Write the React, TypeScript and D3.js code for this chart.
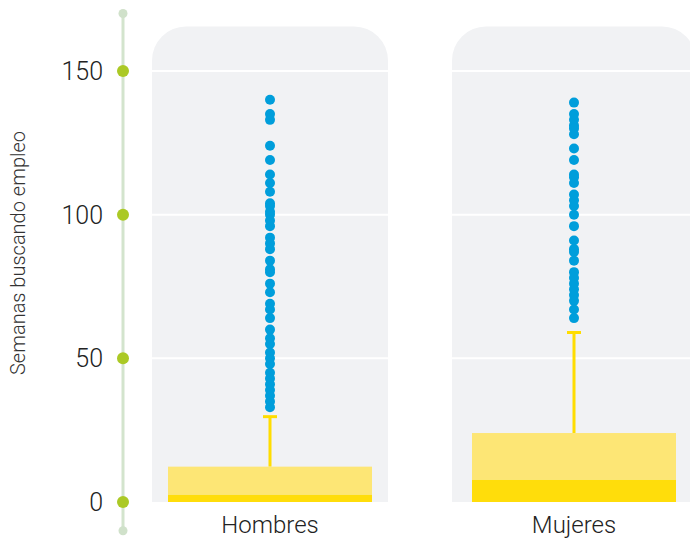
import React from 'react';
import * as d3 from 'd3';

const categories = ['Hombres', 'Mujeres'];
const q1 = [0, 0];
const medians = [2.5, 7.7];
const q3 = [12.3, 24];
const whiskerHigh = [29.7, 59];
const outliersHombres = [
  140, 135, 133, 124, 119, 114, 111, 108, 104, 103, 101, 100, 98, 96, 92, 90, 88, 84, 81, 80,
  76, 73, 69, 67, 64, 60, 57, 55, 52, 50, 48, 45, 43, 41, 39, 37, 35, 33,
];
const outliersMujeres = [
  139, 135, 133, 131, 130, 128, 123, 119, 114, 113, 111, 107, 105, 103, 100, 96, 91, 88, 87, 84,
  80, 78, 76, 74, 72, 70, 67, 64,
];
const outliers = [outliersHombres, outliersMujeres];
const yTicks = [0, 50, 100, 150];
const gridTicks = [50, 100, 150];
const axisExtent = [-10, 170];
const panelTop = 165.5;

const W = 690;
const H = 539;
const FONT = 'Roboto, "Liberation Sans", sans-serif';

const App: React.FC = () => {
  const y = d3.scaleLinear().domain([0, 150]).range([502, 71]);
  const x = d3.scaleBand<string>()
    .domain(categories)
    .range([152, 688])
    .paddingInner(64 / 300);
  const bw = x.bandwidth();
  const boxW = 204;
  const axisX = 123;

  // last panel runs past the right edge of the picture
  const panelExtent = (c: string, i: number): [number, number] => {
    const x0 = x(c)!;
    return [x0, i === categories.length - 1 ? 696 : x0 + bw];
  };

  const panelPath = (x0: number, x1: number) => {
    const r = 34;
    const top = y(panelTop);
    const bottom = y(0);
    const p = d3.path();
    p.moveTo(x0, bottom);
    p.lineTo(x0, top + r);
    p.arcTo(x0, top, x0 + r, top, r);
    p.lineTo(x1 - r, top);
    p.arcTo(x1, top, x1, top + r, r);
    p.lineTo(x1, bottom);
    p.closePath();
    return p.toString();
  };

  return (
    <svg width={W} height={H} style={{ position: 'absolute', left: 0, top: 0 }} fontFamily={FONT}>
      {/* panels */}
      {categories.map((c, i) => {
        const [x0, x1] = panelExtent(c, i);
        return (
          <g key={c}>
            <path d={panelPath(x0, x1)} fill="#f1f2f4" />
            {gridTicks.map((t) => (
              <line key={t} x1={x0} x2={x1} y1={y(t)} y2={y(t)} stroke="#ffffff" strokeWidth={2} />
            ))}
          </g>
        );
      })}

      {/* boxes, whiskers, outliers */}
      {categories.map((c, i) => {
        const [x0, x1] = panelExtent(c, i);
        const cx = (x0 + x1) / 2;
        return (
          <g key={c}>
            <line x1={cx} x2={cx} y1={y(q3[i])} y2={y(whiskerHigh[i])} stroke="#ffdd00" strokeWidth={3} />
            <line x1={cx - 7} x2={cx + 7} y1={y(whiskerHigh[i])} y2={y(whiskerHigh[i])} stroke="#ffdd00" strokeWidth={3} />
            <rect x={cx - boxW / 2} width={boxW} y={y(q3[i])} height={y(medians[i]) - y(q3[i])} fill="#fde675" />
            <rect x={cx - boxW / 2} width={boxW} y={y(medians[i])} height={y(q1[i]) - y(medians[i])} fill="#ffdd0b" />
            {outliers[i].map((v, j) => (
              <circle key={j} cx={cx} cy={y(v)} r={5} fill="#009edb" />
            ))}
            <text x={cx} y={533} textAnchor="middle" fontSize={24} fontWeight={300} fill="#222">{c}</text>
          </g>
        );
      })}

      {/* y axis */}
      <line x1={axisX} x2={axisX} y1={y(axisExtent[0])} y2={y(axisExtent[1])} stroke="#d3e4cd" strokeWidth={3} />
      {axisExtent.map((v) => (
        <circle key={v} cx={axisX} cy={y(v)} r={4.5} fill="#d0e1ca" />
      ))}
      {yTicks.map((t) => (
        <g key={t}>
          <circle cx={axisX} cy={y(t)} r={6} fill="#abc925" />
          <text x={103} y={y(t)} dy="0.36em" textAnchor="end" fontSize={25} fontWeight={300} fill="#222">{t}</text>
        </g>
      ))}
      <text
        transform={`translate(25, 253) rotate(-90)`}
        textAnchor="middle"
        fontSize={20}
        fontWeight={300}
        fill="#333"
      >
        Semanas buscando empleo
      </text>
    </svg>
  );
};

export default App;
